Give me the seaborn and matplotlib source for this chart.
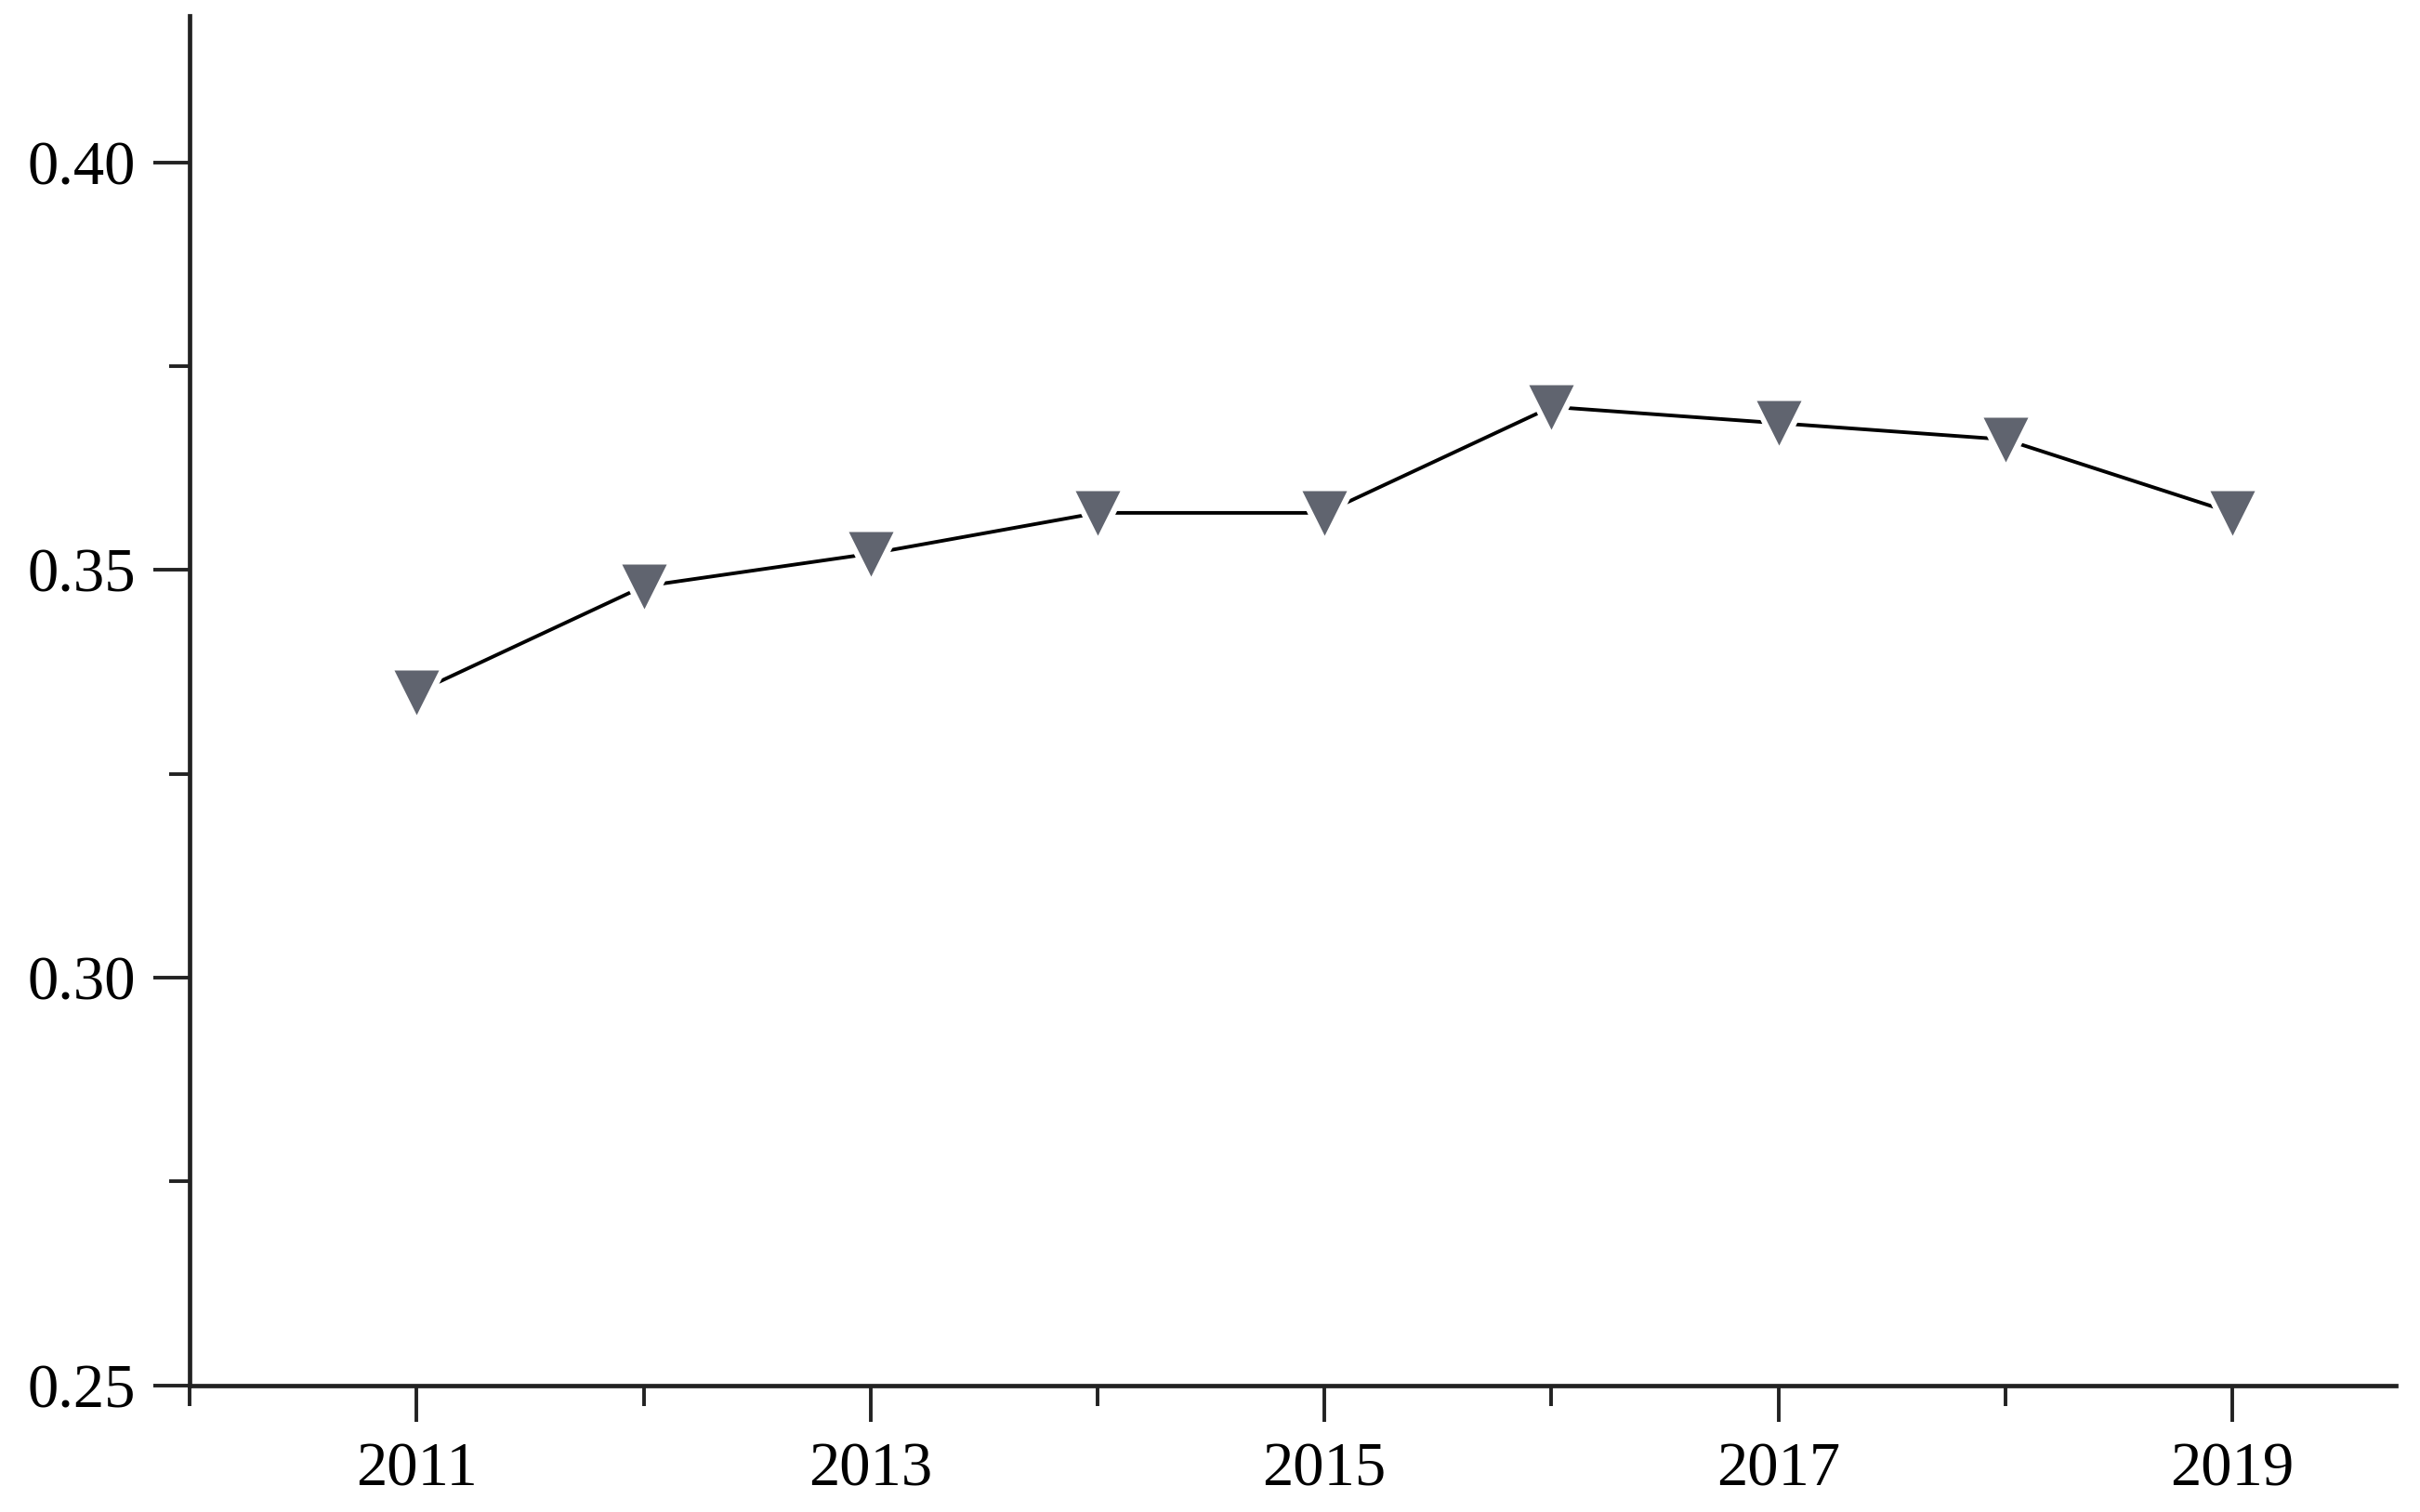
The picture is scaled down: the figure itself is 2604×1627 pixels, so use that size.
import matplotlib
matplotlib.use("Agg")
import matplotlib.pyplot as plt
import seaborn as sns
import pandas as pd
from matplotlib.ticker import MultipleLocator, FormatStrFormatter

# data
years = [2011, 2012, 2013, 2014, 2015, 2016, 2017, 2018, 2019]
values = [0.335, 0.348, 0.352, 0.357, 0.357, 0.370, 0.368, 0.366, 0.357]
major_years = [2011, 2013, 2015, 2017, 2019]
y_ticks = [0.25, 0.30, 0.35, 0.40]

df = pd.DataFrame({"year": years, "value": values})

sns.set_theme(style="ticks")
plt.rcParams['font.family'] = ['Liberation Serif', 'DejaVu Serif']

fig = plt.figure(figsize=(26.04, 16.27), dpi=100)
ax = fig.add_axes([0.0784, 0.0837, 0.9116, 0.9061])

marker_color = '#60646f'

# line, then a white halo so the line stops short of each marker, then the markers
sns.lineplot(data=df, x="year", y="value", color="black", linewidth=2.8, ax=ax, zorder=2)
ax.plot(df["year"], df["value"], linestyle="none", marker="v", markersize=54,
        markerfacecolor="white", markeredgecolor="none", zorder=3)
ax.plot(df["year"], df["value"], linestyle="none", marker="v", markersize=35,
        markerfacecolor=marker_color, markeredgecolor="none", zorder=4)

ax.set_xlim(2010.0, 2019.72)
ax.set_ylim(0.25, 0.418)

ax.set_xticks(major_years)
ax.xaxis.set_minor_locator(MultipleLocator(1))
ax.set_yticks(y_ticks)
ax.yaxis.set_minor_locator(MultipleLocator(0.025))
ax.yaxis.set_major_formatter(FormatStrFormatter('%.2f'))

ax.set_xlabel("")
ax.set_ylabel("")

for side in ["top", "right"]:
    ax.spines[side].set_visible(False)
for side in ["left", "bottom"]:
    ax.spines[side].set_linewidth(3.4)
    ax.spines[side].set_color("#222222")

ax.tick_params(axis="both", which="major", direction="out", length=28, width=2.8,
               color="#222222", labelsize=48, labelcolor="black")
ax.tick_params(axis="both", which="minor", direction="out", length=16, width=2.8,
               color="#222222")
ax.tick_params(axis="x", which="major", pad=16)
ax.tick_params(axis="y", which="major", pad=14)

fig.savefig("out.png", dpi=100, facecolor="white")
